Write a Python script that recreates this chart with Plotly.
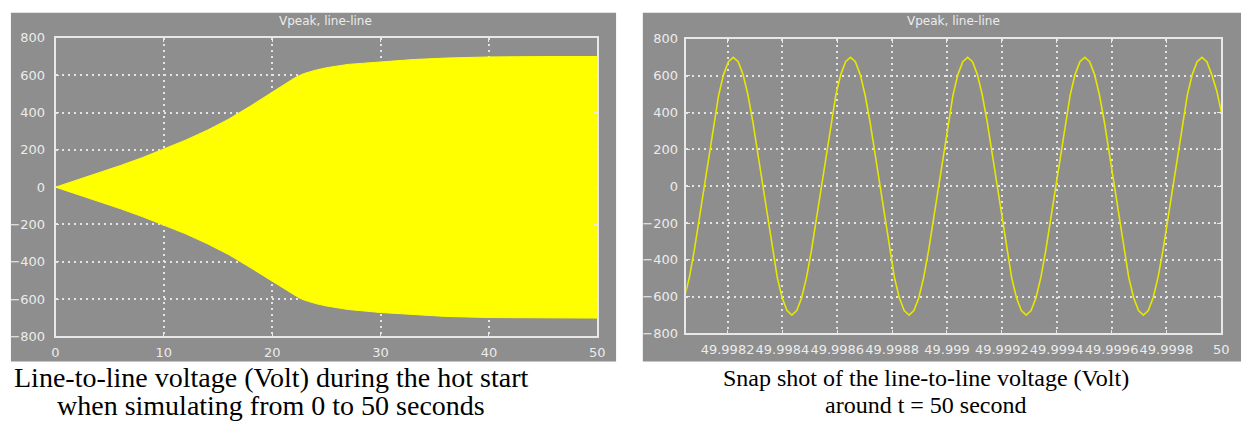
import numpy as np
import plotly.graph_objects as go

# ---------------- data ----------------
# Left panel: envelope of the line-to-line voltage during hot start (0..50 s)
env_time = [0, 2, 4, 6, 8, 10, 12, 14, 16, 18, 20, 21, 22, 22.5, 23, 24, 25, 27, 30, 33, 36, 40, 45, 50]
env_upper = [0, 38, 77, 116, 158, 203, 252, 305, 365, 435, 510, 548, 583, 598, 610, 627, 640, 658, 672, 684, 692, 698, 700, 700]
env_lower = [0, -38, -77, -116, -158, -203, -250, -303, -362, -432, -505, -543, -579, -594, -606, -624, -637, -656, -672, -684, -693, -699, -701, -702]

# Right panel: snapshot around t = 50 s (sampled waveform)
snap_t0 = 49.998043
snap_dt = 0.0000178
snap_voltage = [
    -606, -495, -350, -181, 0, 181, 350, 495, 606, 676,
    700, 676, 606, 495, 350, 181, 0, -181, -350, -495, -606, -676,
    -700, -676, -606, -495, -350, -181, 0, 181, 350, 495, 606, 676,
    700, 676, 606, 495, 350, 181, 0, -181, -350, -495, -606, -676,
    -700, -676, -606, -495, -350, -181, 0, 181, 350, 495, 606, 676,
    700, 676, 606, 495, 350, 181, 0, -181, -350, -495, -606, -676,
    -700, -676, -606, -495, -350, -181, 0, 181, 350, 495, 606, 676,
    700, 676, 606, 495, 350, 181, 0, -181, -350, -495, -606, -676,
    -700, -676, -606, -495, -350, -181, 0, 181, 350, 495, 606, 676,
    700, 676, 606, 520, 400, 250,
]
snap_time = snap_t0 + snap_dt * np.arange(len(snap_voltage))

left_xticks = [0, 10, 20, 30, 40, 50]
right_xticks = [49.9982, 49.9984, 49.9986, 49.9988, 49.999, 49.9992, 49.9994, 49.9996, 49.9998, 50]
right_xticklabels = ["49.9982", "49.9984", "49.9986", "49.9988", "49.999", "49.9992",
                     "49.9994", "49.9996", "49.9998", "50"]
yticks = [-800, -600, -400, -200, 0, 200, 400, 600, 800]
panel_title = "Vpeak, line-line"
caption_left = ["Line-to-line voltage (Volt) during the hot start",
                "when simulating from 0 to 50 seconds"]
caption_right = ["Snap shot of the line-to-line voltage (Volt)",
                 "around t = 50 second"]

# ---------------- layout helpers ----------------
W, H = 1253, 440
def px(x):
    return x / W
def py(y):
    return 1 - y / H

GRAY = "#8e8e8e"
YELLOW = "#ffff00"
TICKFONT = dict(family="DejaVu Sans", size=13, color="#ececec")

fig = go.Figure()

fig.add_trace(go.Scatter(x=env_time, y=env_lower, mode="lines",
                         line=dict(color=YELLOW, width=1), xaxis="x", yaxis="y",
                         showlegend=False, hoverinfo="skip"))
fig.add_trace(go.Scatter(x=env_time, y=env_upper, mode="lines",
                         line=dict(color=YELLOW, width=1), fill="tonexty",
                         fillcolor=YELLOW, xaxis="x", yaxis="y",
                         showlegend=False, hoverinfo="skip"))
fig.add_trace(go.Scatter(x=snap_time, y=snap_voltage, mode="lines",
                         line=dict(color="#e6e600", width=1.6), xaxis="x2", yaxis="y2",
                         showlegend=False, hoverinfo="skip"))

axis_common = dict(
    showgrid=True, gridcolor="#e4e4e4", griddash="2px,4px", gridwidth=1.5,
    zeroline=False, showline=True, linecolor="#e8e8e8", linewidth=1.5,
    mirror="ticks", ticks="inside", ticklen=4, tickcolor="#e8e8e8",
    tickfont=TICKFONT, tickangle=0,
)

fig.update_layout(
    width=W, height=H, autosize=False,
    margin=dict(l=0, r=0, t=0, b=0, pad=0),
    paper_bgcolor="white", plot_bgcolor="black",
    xaxis=dict(domain=[px(52), px(599)], anchor="y", range=[0, 50],
               tickvals=left_xticks, ticklabelstandoff=3, **axis_common),
    yaxis=dict(domain=[py(341), py(32)], anchor="x", range=[-800, 800],
               tickvals=yticks, ticklabelstandoff=6, **axis_common),
    xaxis2=dict(domain=[px(689), px(1229)], anchor="y2", range=[49.99805, 50],
                tickvals=right_xticks, ticktext=right_xticklabels,
                ticklabelstandoff=3, **axis_common),
    yaxis2=dict(domain=[py(338), py(33)], anchor="x2", range=[-800, 800],
                tickvals=yticks, ticklabelstandoff=4, **axis_common),
)

# gray scope frames
for x0, x1 in [(7, 618), (645, 1249)]:
    fig.add_shape(type="rect", xref="paper", yref="paper",
                  x0=px(x0), x1=px(x1), y0=py(367), y1=py(6),
                  fillcolor=GRAY, line=dict(width=0), layer="below")

# small resize-grip mark inside the right scope
for (ax, ay, bx, by) in [(1053, 329, 1063, 318), (1057, 330, 1066, 321)]:
    fig.add_shape(type="line", xref="paper", yref="paper",
                  x0=px(ax), y0=py(ay), x1=px(bx), y1=py(by),
                  line=dict(color="#8a8a8a", width=1))

# panel titles
for cx in [325, 959]:
    fig.add_annotation(text=panel_title, xref="paper", yref="paper",
                       x=px(cx), y=py(15), xanchor="center", yanchor="middle",
                       showarrow=False, font=dict(family="DejaVu Sans", size=12, color="#ececec"))

# captions
for cx, lines, fs, y1, gap in [(270, caption_left, 28, 384, 29), (931, caption_right, 24, 384, 28)]:
    for i, line in enumerate(lines):
        fig.add_annotation(text=line, xref="paper", yref="paper",
                           x=px(cx), y=py(y1 + gap * i), xanchor="center", yanchor="middle",
                           showarrow=False,
                           font=dict(family="Liberation Serif", size=fs, color="black"))

fig.write_html("out.html", config={"displayModeBar": False},
               post_script="document.body.style.margin='0px';document.body.style.overflow='hidden';")
